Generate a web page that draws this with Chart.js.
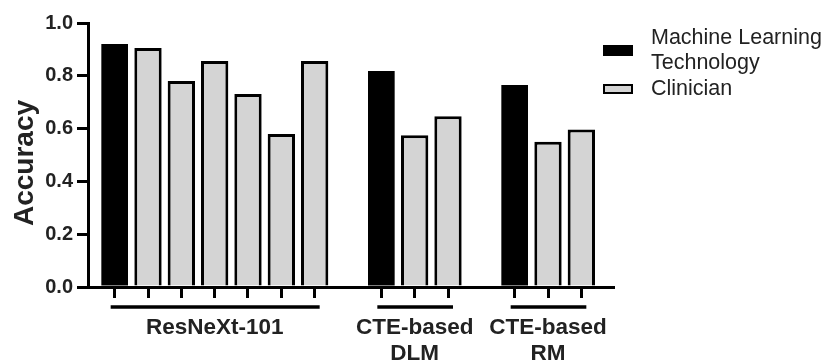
<!DOCTYPE html>
<html>
<head>
<meta charset="utf-8">
<script src="https://cdn.jsdelivr.net/npm/chart.js@4.4.1/dist/chart.umd.min.js"></script>
<style>
  html, body { margin: 0; padding: 0; background: #fff; }
  #wrap { width: 826px; height: 360px; position: relative; }
</style>
</head>
<body>
<div id="wrap"><canvas id="accChart" width="826" height="360"></canvas></div>
<script>
// data
const groupLabels = [['ResNeXt-101'], ['CTE-based', 'DLM'], ['CTE-based', 'RM']];
const mlValues = [0.92, 0.818, 0.765];
const clinicianValues = [
    [0.905, 0.78, 0.856, 0.731, 0.58, 0.856],
    [0.575, 0.647],
    [0.55, 0.597]
];
const yTicks = [0, 0.2, 0.4, 0.6, 0.8, 1.0];
const seriesNames = [['Machine Learning', 'Technology'], ['Clinician']];

const FONT = "'Liberation Sans', Arial, sans-serif";
const TEXT = '#222';
const GREY = '#d4d4d4';

// one slot per bar, one empty slot between groups
const mlPoints = [];
const clinPoints = [];
const groupSlots = [];
let slot = 0;
mlValues.forEach((v, g) => {
    const first = slot;
    mlPoints.push({ x: slot, y: v });
    slot++;
    clinicianValues[g].forEach(c => {
        clinPoints.push({ x: slot, y: c });
        slot++;
    });
    groupSlots.push([first, slot - 1]);
    slot++;
});
const allSlots = mlPoints.concat(clinPoints).map(p => p.x).sort((a, b) => a - b);

const extras = {
    id: 'extras',
    afterDraw(chart) {
        const ctx = chart.ctx;
        const xs = chart.scales.x;
        const area = chart.chartArea;
        ctx.save();

        // group bars + labels under the axis
        groupSlots.forEach((s, i) => {
            const x1 = xs.getPixelForValue(s[0]) - 4;
            const x2 = xs.getPixelForValue(s[1]) + 5;
            ctx.strokeStyle = '#000';
            ctx.lineWidth = 3.5;
            ctx.beginPath();
            ctx.moveTo(x1, area.bottom + 20);
            ctx.lineTo(x2, area.bottom + 20);
            ctx.stroke();

            const cx = (xs.getPixelForValue(s[0]) + xs.getPixelForValue(s[1])) / 2;
            ctx.fillStyle = TEXT;
            ctx.font = 'bold 22.5px ' + FONT;
            ctx.textAlign = 'center';
            ctx.textBaseline = 'middle';
            groupLabels[i].forEach((t, k) => {
                ctx.fillText(t, cx, area.bottom + 41 + k * 26);
            });
        });

        // y title
        ctx.translate(25, 163);
        ctx.rotate(-Math.PI / 2);
        ctx.font = 'bold 28px ' + FONT;
        ctx.fillStyle = TEXT;
        ctx.textAlign = 'center';
        ctx.textBaseline = 'middle';
        ctx.fillText('Accuracy', 0, 0);
        ctx.setTransform(1, 0, 0, 1, 0, 0);

        // legend
        const lx = area.right - 10;
        ctx.fillStyle = '#000';
        ctx.fillRect(lx, 45, 30, 11);
        ctx.fillStyle = GREY;
        ctx.fillRect(lx + 1, 85, 28, 8);
        ctx.strokeStyle = '#000';
        ctx.lineWidth = 2;
        ctx.strokeRect(lx + 1, 85, 28, 8);

        ctx.font = '21.5px ' + FONT;
        ctx.fillStyle = TEXT;
        ctx.textAlign = 'left';
        ctx.textBaseline = 'middle';
        ctx.fillText(seriesNames[0][0], lx + 48, 38);
        ctx.fillText(seriesNames[0][1], lx + 48, 63);
        ctx.fillText(seriesNames[1][0], lx + 48, 89);
        ctx.restore();
    }
};

new Chart(document.getElementById('accChart'), {
    type: 'bar',
    data: {
        datasets: [{
            label: seriesNames[0].join(' '),
            data: mlPoints,
            backgroundColor: '#000',
            borderColor: '#000',
            borderWidth: 0,
            grouped: false,
            barPercentage: 0.8,
            categoryPercentage: 1
        },
        {
            label: seriesNames[1].join(' '),
            data: clinPoints,
            backgroundColor: GREY,
            borderColor: '#000',
            borderWidth: 3,
            grouped: false,
            barPercentage: 0.82,
            categoryPercentage: 1
        }]
    },
    options: {
        responsive: false,
        animation: false,
        devicePixelRatio: 1,
        layout: { padding: { left: 0, top: 23, right: 213, bottom: 0 } },
        plugins: {
            legend: { display: false },
            tooltip: { enabled: false }
        },
        scales: {
            x: {
                type: 'linear',
                min: -0.8,
                max: 14.95,
                offset: false,
                afterBuildTicks: (scale) => {
                    scale.ticks = allSlots.map(v => ({ value: v }));
                },
                afterFit: (scale) => { scale.height = 73; },
                ticks: { display: false },
                grid: {
                    display: true,
                    offset: false,
                    drawOnChartArea: false,
                    drawTicks: true,
                    tickLength: 11,
                    lineWidth: 3,
                    color: '#000'
                },
                border: { display: true, color: '#000', width: 3 }
            },
            y: {
                min: 0,
                max: 1,
                afterBuildTicks: (scale) => {
                    scale.ticks = yTicks.map(v => ({ value: v }));
                },
                afterFit: (scale) => { scale.width = 88; },
                ticks: {
                    callback: v => v.toFixed(1),
                    font: { family: FONT, size: 20, weight: 'bold' },
                    color: TEXT,
                    padding: 4
                },
                grid: {
                    display: true,
                    drawOnChartArea: false,
                    drawTicks: true,
                    tickLength: 11,
                    lineWidth: 3,
                    color: '#000'
                },
                border: { display: true, color: '#000', width: 3 }
            }
        }
    },
    plugins: [extras]
});
</script>
</body>
</html>
